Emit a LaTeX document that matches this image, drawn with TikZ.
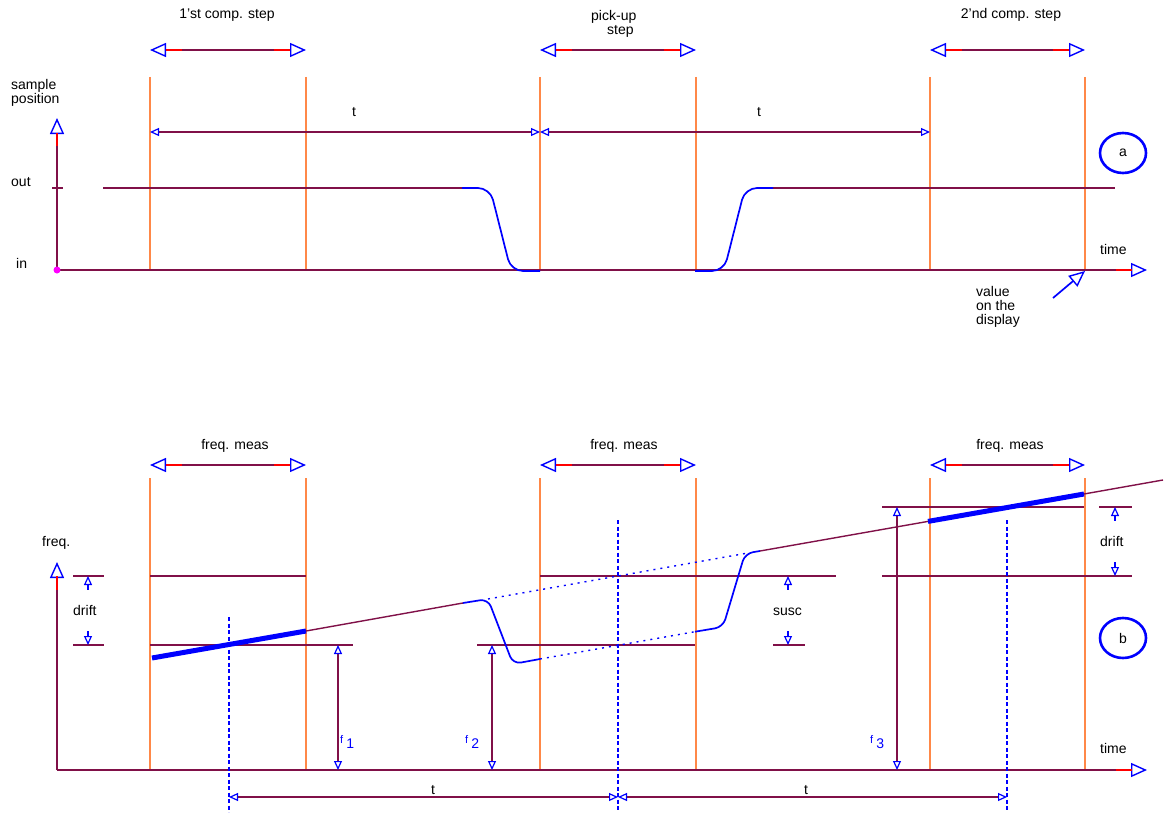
\documentclass[tikz,border=0pt]{standalone}
\usepackage{fontspec}
\setmainfont{Liberation Sans}
\usetikzlibrary{arrows.meta,shapes.geometric}
\definecolor{prp}{RGB}{128,16,72}
\definecolor{orng}{RGB}{255,136,72}
\definecolor{mag}{RGB}{255,0,255}
\tikzset{
  big/.tip={Triangle[open, length=16pt, width=14pt, line width=1.4pt, color=blue]},
  sml/.tip={Triangle[open, length=9pt, width=8pt, line width=1.2pt, color=blue]},
}
\newcommand{\spandim}[3]{%
  \draw[prpln, big-big] (#1,#3) -- (#2,#3);
  \draw[redseg] (#1+16,#3) -- (#1+32,#3);
  \draw[redseg] (#2-16,#3) -- (#2-32,#3);
}
\newcommand{\fsub}[1]{{\fontsize{11}{11}\selectfont f}\hspace{3pt}\raisebox{-5pt}{#1}}
\begin{document}
\begin{tikzpicture}[x=1pt, y=-1pt,
  lbl/.style={font=\fontsize{14}{14}\selectfont, inner sep=0pt, anchor=base west},
  prpln/.style={draw=prp, line width=1.4pt},
  orln/.style={draw=orng, line width=1.4pt},
  bluln/.style={draw=blue, line width=1.7pt},
  redseg/.style={draw=red, line width=1.4pt},
  dotln/.style={draw=blue, line width=1.4pt, dash pattern=on 2pt off 5pt},
  vdash/.style={draw=blue, line width=1.2pt, dash pattern=on 4pt off 2.5pt},
  thk/.style={draw=blue, line width=5pt},
  drf/.style={draw=blue, line width=1.2pt},
  tag/.style={ellipse, draw=blue, line width=2.6pt, minimum width=46pt, minimum height=40pt,
    inner sep=0pt, font=\fontsize{14}{14}\selectfont},
]
  \useasboundingbox (0,0) rectangle (1173,816);

  \foreach \x in {150,306,540,696,930,1085} {
    \draw[orln] (\x,77) -- (\x,270);
    \draw[orln] (\x,478) -- (\x,770);
  }

  % sample position
  \spandim{150}{306}{50}
  \spandim{540}{696}{50}
  \spandim{930}{1085}{50}
  \node[lbl, anchor=base] (compone) at (227,19) {1'st comp. step};
  \node[lbl] (pickup) at (591,21) {pick-up};
  \node[lbl] (pickstep) at (607,35) {step};
  \node[lbl, anchor=base] (comptwo) at (1011,19) {2'nd comp. step};

  \draw[prpln, sml-sml] (150,132) -- (540,132);
  \draw[prpln, sml-sml] (540,132) -- (930,132);
  \node[lbl, anchor=base] (tone) at (354,116) {t};
  \node[lbl, anchor=base] (ttwo) at (759,116) {t};

  \draw[prpln, -big] (57,270) -- (57,118);
  \draw[redseg] (57,133) -- (57,146);
  \draw[prpln, -big] (57,270) -- (1147,270);
  \draw[redseg] (1116,270) -- (1132,270);
  \draw[prpln] (52,188) -- (63,188);
  \fill[mag] (57,270) circle (3.5);
  \node[lbl] (samp) at (11,89) {sample};
  \node[lbl] (posn) at (11,103) {position};
  \node[lbl] (out) at (11,186) {out};
  \node[lbl] (in) at (16,268) {in};
  \node[lbl] (timea) at (1100,254) {time};

  \draw[prpln] (103,188) -- (462,188);
  \draw[prpln] (773,188) -- (1115,188);
  \draw[bluln, rounded corners=12pt] (462,188) -- (490,188) -- (511,271) -- (540,271);
  \draw[bluln, rounded corners=12pt] (695,271) -- (724,271) -- (745,188) -- (773,188);

  \node[tag] (taga) at (1123,153) {a};
  \node[lbl] (valone) at (976,296) {value};
  \node[lbl] (valtwo) at (976,310) {on the};
  \node[lbl] (valthree) at (976,324) {display};
  \draw[bluln, -big] (1053,298) -- (1085,271);

  % frequency
  \spandim{150}{306}{465}
  \spandim{540}{696}{465}
  \spandim{930}{1085}{465}
  \node[lbl, anchor=base] (measone) at (235,449) {freq. meas};
  \node[lbl, anchor=base] (meastwo) at (624,449) {freq. meas};
  \node[lbl, anchor=base] (measthree) at (1010,449) {freq. meas};

  \draw[prpln, -big] (57,770) -- (57,562);
  \draw[redseg] (57,576) -- (57,590);
  \draw[prpln, -big] (57,770) -- (1147,770);
  \draw[redseg] (1116,770) -- (1132,770);
  \node[lbl] (freq) at (42,546) {freq.};
  \node[lbl] (timeb) at (1100,753) {time};

  \draw[prpln] (73,576) -- (104,576) (150,576) -- (306,576) (540,576) -- (836,576) (882,576) -- (1132,576);
  \draw[prpln] (73,645) -- (104,645) (150,645) -- (353,645) (477,645) -- (695,645) (773,645) -- (805,645);
  \draw[prpln] (882,507) -- (1084,507) (1099,507) -- (1132,507);

  \draw[drf, sml-] (88,576) -- (88,590);
  \draw[drf, -sml] (88,631) -- (88,645);
  \draw[drf, sml-] (788,576) -- (788,590);
  \draw[drf, -sml] (788,631) -- (788,645);
  \draw[drf, sml-] (1115,507) -- (1115,521);
  \draw[drf, -sml] (1115,562) -- (1115,576);
  \node[lbl] (driftone) at (73,615) {drift};
  \node[lbl] (susc) at (773,615) {susc};
  \node[lbl] (drifttwo) at (1100,546) {drift};

  \draw[thk] (152,658) -- (306,631);
  \draw[prpln] (306,631) -- (463,603);
  \draw[bluln, rounded corners=8pt] (463,603) -- (488,599) -- (513,664) -- (540,659);
  \draw[dotln] (488,599) -- (745,553.5);
  \draw[dotln] (540,659) -- (695,631.7);
  \draw[bluln, rounded corners=8pt] (695,631.7) -- (723,627) -- (745,553.5) -- (760,551);
  \draw[prpln] (760,551) -- (928,521.4);
  \draw[thk] (928,521.4) -- (1084,494);
  \draw[prpln] (1084,494) -- (1163,480);

  \draw[vdash] (229,617) -- (229,812);
  \draw[vdash] (618,520) -- (618,812);
  \draw[vdash] (1007,520) -- (1007,812);
  \draw[prpln, sml-sml] (229,797) -- (618,797);
  \draw[prpln, sml-sml] (618,797) -- (1007,797);
  \node[lbl, anchor=base] (tthree) at (433,794) {t};
  \node[lbl, anchor=base] (tfour) at (806,794) {t};

  \draw[prpln, sml-sml] (338,645) -- (338,770);
  \draw[prpln, sml-sml] (492,645) -- (492,770);
  \draw[prpln, sml-sml] (897,507) -- (897,770);
  \node[lbl, text=blue] (fone) at (340,743) {\fsub{1}};
  \node[lbl, text=blue] (ftwo) at (465,743) {\fsub{2}};
  \node[lbl, text=blue] (fthree) at (870,743) {\fsub{3}};

  \node[tag] (tagb) at (1123,638) {b};
\end{tikzpicture}
\end{document}
